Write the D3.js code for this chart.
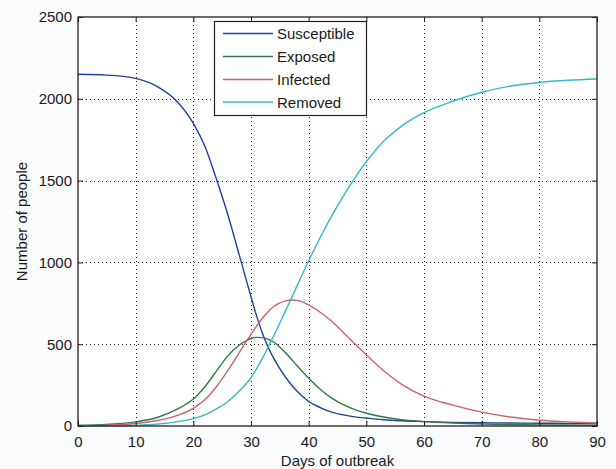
<!DOCTYPE html>
<html>
<head>
<meta charset="utf-8">
<script src="https://cdn.jsdelivr.net/npm/d3@7"></script>
<style>
  html, body { margin: 0; padding: 0; background: #fafbfd; }
  svg { display: block; }
  text { font-family: "Liberation Sans", Arial, sans-serif; fill: #1a1a1a; }
</style>
</head>
<body>
<svg id="chart" width="616" height="469"></svg>
<script>
const days        = [0, 5, 10, 14, 17, 20, 22, 24, 26, 28, 29, 30, 31, 32, 33, 34, 35, 36, 37, 38, 40, 42, 44, 46, 48, 50, 53, 56, 60, 65, 70, 75, 80, 85, 90];
const susceptible = [2150, 2145, 2125, 2070, 1990, 1850, 1710, 1510, 1290, 1040, 915, 790, 670, 565, 480, 410, 350, 298, 252, 212, 150, 113, 85, 68, 56, 48, 38, 32, 27, 22, 20, 18, 17, 16, 15];
const exposed     = [5, 10, 25, 55, 100, 165, 240, 335, 430, 495, 518, 535, 542, 540, 530, 512, 482, 448, 408, 368, 292, 225, 170, 130, 100, 78, 55, 38, 27, 18, 12, 9, 7, 6, 5];
const infected    = [2, 5, 15, 35, 62, 108, 160, 240, 340, 450, 507, 560, 612, 660, 700, 732, 752, 765, 770, 768, 740, 695, 640, 572, 502, 435, 338, 258, 183, 128, 85, 55, 35, 25, 18];
const removed     = [0, 1, 4, 12, 25, 45, 68, 105, 150, 215, 252, 295, 352, 415, 485, 555, 630, 705, 780, 858, 1010, 1152, 1284, 1405, 1515, 1615, 1740, 1830, 1915, 1985, 2040, 2078, 2100, 2113, 2121];

const seriesNames = ["Susceptible", "Exposed", "Infected", "Removed"];
const seriesColors = ["#23409a", "#2e7a4c", "#c8646e", "#34b8c8"];
const seriesValues = [susceptible, exposed, infected, removed];

const xTicks = [0, 10, 20, 30, 40, 50, 60, 70, 80, 90];
const yTicks = [0, 500, 1000, 1500, 2000, 2500];
const xTitle = "Days of outbreak";
const yTitle = "Number of people";

const svg = d3.select("#chart");
const L = 78, R = 597, T = 17, B = 426;
const x = d3.scaleLinear().domain([0, 90]).range([L, R]);
const y = d3.scaleLinear().domain([0, 2500]).range([B, T]);

// plot background
svg.append("rect").attr("x", L).attr("y", T).attr("width", R - L).attr("height", B - T).attr("fill", "#ffffff");

// grid
const grid = svg.append("g").attr("stroke", "#222").attr("stroke-width", 1).attr("stroke-dasharray", "1,3");
xTicks.slice(1, -1).forEach(t => {
  grid.append("line").attr("x1", Math.round(x(t)) + 0.5).attr("x2", Math.round(x(t)) + 0.5).attr("y1", T).attr("y2", B);
});
yTicks.slice(1, -1).forEach(t => {
  grid.append("line").attr("y1", Math.round(y(t)) + 0.5).attr("y2", Math.round(y(t)) + 0.5).attr("x1", L).attr("x2", R);
});

// curves
const line = d3.line().x((d, i) => x(days[i])).y(d => y(d)).curve(d3.curveMonotoneX);
seriesValues.forEach((vals, k) => {
  svg.append("path").datum(vals).attr("d", line).attr("fill", "none")
    .attr("stroke", seriesColors[k]).attr("stroke-width", 1.4);
});

// axes (MATLAB-style inward ticks on all sides)
const tl = -5;
const fmt = d3.format("d");
svg.append("g").attr("transform", `translate(0,${B})`)
  .call(d3.axisBottom(x).tickValues(xTicks).tickFormat(fmt).tickSizeInner(tl).tickSizeOuter(0).tickPadding(10))
  .call(g => g.selectAll("text").attr("font-size", 15));
svg.append("g").attr("transform", `translate(0,${T})`)
  .call(d3.axisTop(x).tickValues(xTicks).tickSizeInner(tl).tickSizeOuter(0).tickFormat(""));
svg.append("g").attr("transform", `translate(${L},0)`)
  .call(d3.axisLeft(y).tickValues(yTicks).tickFormat(fmt).tickSizeInner(tl).tickSizeOuter(0).tickPadding(6))
  .call(g => g.selectAll("text").attr("font-size", 15));
svg.append("g").attr("transform", `translate(${R},0)`)
  .call(d3.axisRight(y).tickValues(yTicks).tickSizeInner(tl).tickSizeOuter(0).tickFormat(""));
svg.selectAll(".domain").remove();
svg.selectAll(".tick line").attr("stroke", "#1a1a1a");
svg.selectAll(".tick text").attr("fill", "#1a1a1a").attr("font-family", "Liberation Sans, Arial, sans-serif");

// box
svg.append("rect").attr("x", L).attr("y", T).attr("width", R - L).attr("height", B - T)
  .attr("fill", "none").attr("stroke", "#2a1c1c").attr("stroke-width", 1.3);

// titles
svg.append("text").attr("x", (L + R) / 2).attr("y", 466).attr("text-anchor", "middle").attr("font-size", 15).text(xTitle);
svg.append("text").attr("transform", `translate(27,${(T + B) / 2}) rotate(-90)`).attr("text-anchor", "middle").attr("font-size", 15).text(yTitle);

// legend
const lg = svg.append("g");
lg.append("rect").attr("x", 214.5).attr("y", 21.5).attr("width", 152).attr("height", 94)
  .attr("fill", "#ffffff").attr("stroke", "#2a1c1c").attr("stroke-width", 1.2);
const rowY = [33.5, 56.5, 79.5, 102];
seriesNames.forEach((name, k) => {
  lg.append("line").attr("x1", 223).attr("x2", 273).attr("y1", rowY[k]).attr("y2", rowY[k])
    .attr("stroke", seriesColors[k]).attr("stroke-width", 1.4);
  lg.append("text").attr("x", 277).attr("y", rowY[k] + 5.5).attr("font-size", 15).text(name);
});
</script>
</body>
</html>
